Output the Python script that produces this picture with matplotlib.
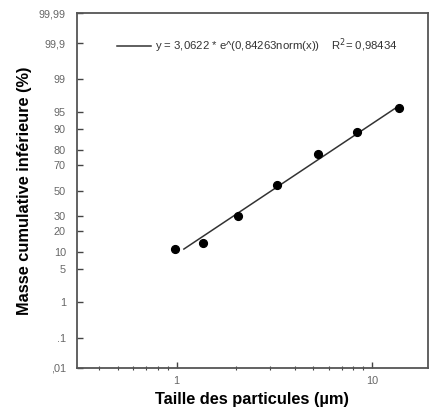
import numpy as np
import matplotlib
matplotlib.use("Agg")
import matplotlib.pyplot as plt
from matplotlib.ticker import FixedLocator, NullFormatter
from statistics import NormalDist

# Data
taille = [0.98, 1.37, 2.05, 3.27, 5.30, 8.38, 13.7]          # µm
masse_cum = [11.0, 13.6, 29.7, 54.6, 77.8, 89.0, 95.8]        # %

# Fit: y = a * exp(b * norm(x))
fit_a = 3.0622
fit_b = 0.84263
fit_r2 = "0,98434"

y_ticks = [0.01, 0.1, 1, 5, 10, 20, 30, 50, 70, 80, 90, 95, 99, 99.9, 99.99]
y_ticklabels = [",01", ".1", "1", "5", "10", "20", "30", "50", "70", "80",
                "90", "95", "99", "99,9", "99,99"]
x_ticks = [1, 10]
x_ticklabels = ["1", "10"]
x_minor = [0.4, 0.5, 0.6, 0.7, 0.8, 0.9, 2, 3, 4, 5, 6, 7, 8, 9]

nd = NormalDist()
_vinv_cdf = np.vectorize(lambda v: nd.inv_cdf(v), otypes=[float])
_vcdf = np.vectorize(lambda v: nd.cdf(v), otypes=[float])

def _fwd(p):
    p = np.clip(np.asarray(p, dtype=float), 1e-7, 100 - 1e-7)
    return _vinv_cdf(p / 100.0)

def _inv(z):
    z = np.clip(np.asarray(z, dtype=float), -8, 8)
    return _vcdf(z) * 100.0

plt.rcParams['font.family'] = ['Liberation Sans', 'DejaVu Sans']

fig = plt.figure(figsize=(4.34, 4.12), dpi=100)
ax = fig.add_axes([0.1774, 0.1068, 0.8086, 0.8616])

ax.set_xscale('log')
ax.set_yscale('function', functions=(_fwd, _inv))

# fit line over the data percent range
p_line = np.linspace(min(masse_cum), max(masse_cum), 50)
x_line = fit_a * np.exp(fit_b * _fwd(p_line))
ax.plot(x_line, p_line, color='#333333', lw=1.1,
        label="y = 3,0622 * e^(0,84263norm(x))    R$^2$= " + fit_r2)
ax.plot(taille, masse_cum, 'o', color='black', ms=5.6, zorder=3)

ax.set_xlim(0.31, 19.2)
ax.set_ylim(0.01, 99.99)

ax.yaxis.set_major_locator(FixedLocator(y_ticks))
ax.set_yticklabels(y_ticklabels)
ax.yaxis.set_minor_locator(FixedLocator([]))
ax.xaxis.set_major_locator(FixedLocator(x_ticks))
ax.set_xticklabels(x_ticklabels)
ax.xaxis.set_minor_locator(FixedLocator(x_minor))
ax.xaxis.set_minor_formatter(NullFormatter())

ax.tick_params(axis='both', which='major', direction='in', length=4, width=1,
               color='#444444', labelcolor='#666666', labelsize=7.8)
ax.tick_params(axis='y', which='major', pad=8)
ax.tick_params(axis='x', which='major', pad=6)
ax.tick_params(axis='x', which='minor', direction='inout', length=3, width=0.8,
               color='#444444')

for s in ax.spines.values():
    s.set_color('#555555')
    s.set_linewidth(1.3)

ax.set_xlabel("Taille des particules (µm)", fontsize=11.8, fontweight='bold', labelpad=4)
ax.set_ylabel("Masse cumulative inférieure (%)", fontsize=11.8, fontweight='bold', labelpad=5)

leg = ax.legend(loc='upper left', bbox_to_anchor=(0.085, 0.963), frameon=False,
                fontsize=8.2, handlelength=3.0, handletextpad=0.3, labelcolor='#333333')

fig.savefig("out.png", dpi=100)
